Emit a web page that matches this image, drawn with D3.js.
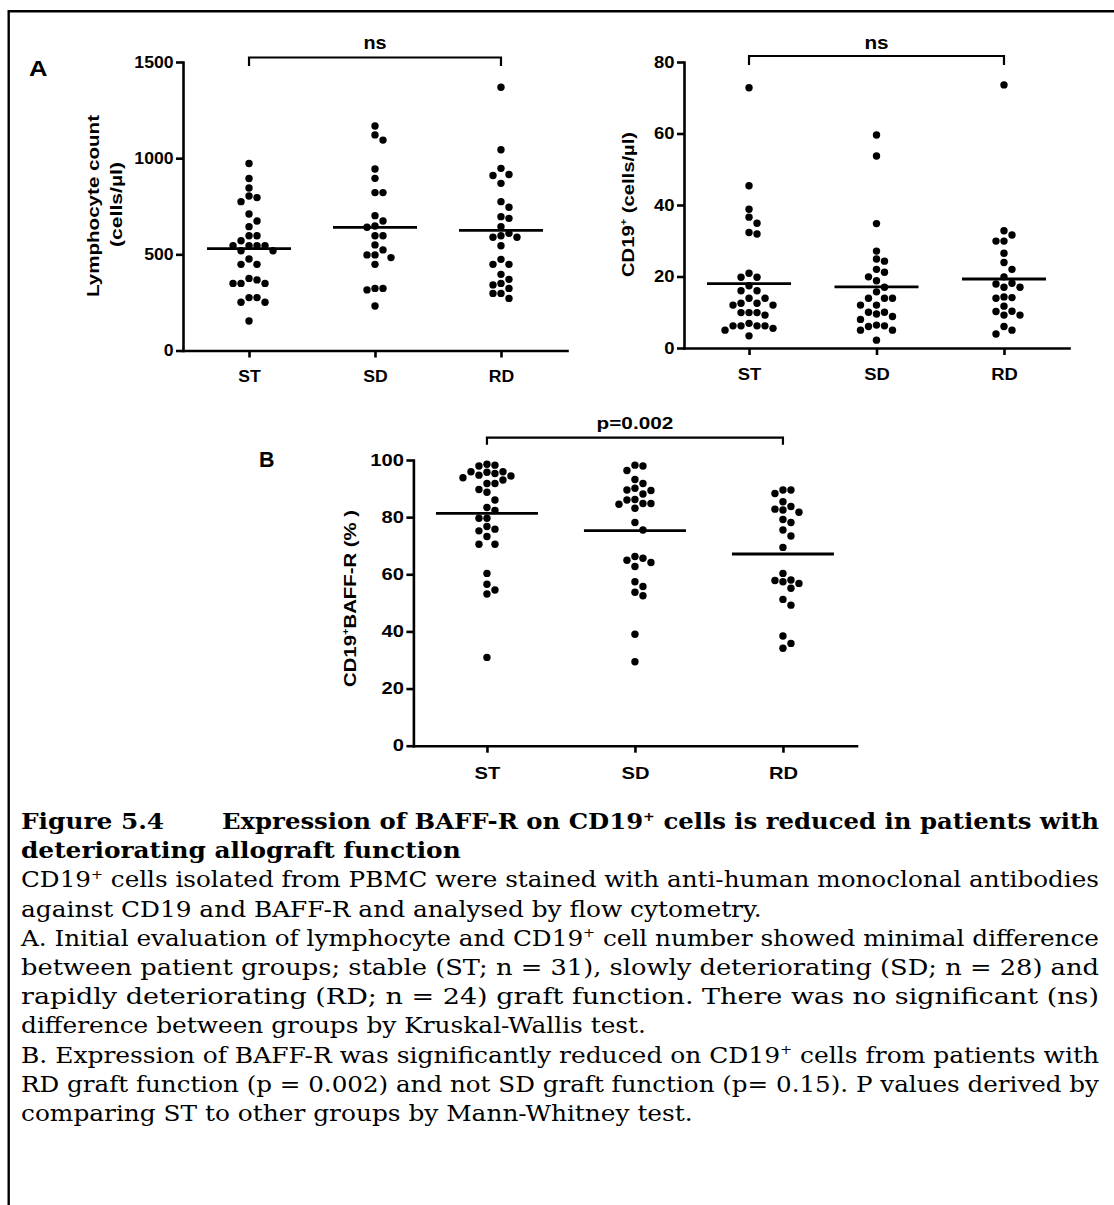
<!DOCTYPE html>
<html>
<head>
<meta charset="utf-8">
<script src="https://cdn.jsdelivr.net/npm/d3@7"></script>
<style>
  html, body { margin: 0; padding: 0; background: #fff; }
  svg { display: block; }
</style>
</head>
<body>
<svg id="fig" width="1114" height="1205"></svg>
<script>
// ---- data -------------------------------------------------------------
const groups = ["ST", "SD", "RD"];

// Lymphocyte count (cells/µl)
const lymphST = [972, 894, 845, 803, 795, 774, 710, 673, 644, 597, 597, 571, 545, 545, 545, 545, 519, 519, 476, 448, 448, 375, 367, 349, 349, 349, 275, 275, 251, 251, 153];
const lymphSD = [1167, 1121, 1094, 944, 895, 821, 821, 701, 673, 647, 641, 597, 597, 549, 523, 497, 497, 483, 448, 323, 323, 315, 231];
const lymphRD = [1369, 1044, 947, 915, 910, 869, 774, 745, 696, 687, 644, 609, 597, 589, 589, 545, 474, 448, 448, 396, 370, 349, 341, 323, 297, 297, 271];
const lymphMedian = [530, 640, 625];
const lymphTicks = [0, 500, 1000, 1500];

// CD19+ cells (cells/µl)
const cd19ST = [72.8, 45.4, 38.8, 36.6, 34.9, 32.3, 31.9, 20.9, 19.8, 19.8, 17.4, 16.0, 16.0, 13.9, 13.9, 12.5, 12.5, 12.0, 12.0, 9.9, 9.9, 9.9, 9.2, 6.9, 6.2, 6.2, 6.2, 6.2, 5.5, 5.0, 3.4];
const cd19SD = [59.6, 53.7, 34.8, 27.1, 24.9, 24.3, 22.0, 21.2, 19.9, 18.8, 17.0, 15.7, 13.9, 13.9, 13.9, 12.0, 12.0, 10.0, 10.0, 9.5, 8.8, 8.0, 6.4, 6.2, 6.0, 5.0, 5.0, 2.2];
const cd19RD = [73.6, 32.8, 31.6, 29.9, 29.9, 26.5, 23.9, 22.0, 19.9, 18.1, 17.9, 17.0, 17.0, 14.3, 14.1, 13.9, 11.7, 10.3, 10.2, 9.2, 9.2, 6.0, 5.0, 3.9];
const cd19Median = [18.0, 17.1, 19.3];
const cd19Ticks = [0, 20, 40, 60, 80];

// CD19+BAFF-R (%)
const baffST = [98.5, 98.2, 97.9, 95.9, 95.9, 95.7, 95.3, 94.7, 94.4, 93.8, 93.0, 91.8, 91.8, 89.7, 88.7, 86.0, 83.4, 82.3, 79.6, 79.6, 76.7, 75.8, 75.2, 73.2, 70.5, 70.5, 60.3, 56.5, 54.5, 53.1, 30.9];
const baffSD = [98.2, 97.9, 96.3, 93.2, 91.8, 90.1, 89.5, 89.3, 88.1, 86.2, 86.0, 84.8, 84.8, 84.5, 83.1, 78.1, 75.5, 66.2, 65.6, 64.9, 64.1, 62.7, 57.4, 55.7, 53.7, 52.5, 39.0, 29.4];
const baffRD = [89.5, 89.5, 88.3, 85.4, 83.7, 82.8, 82.5, 81.7, 79.2, 78.1, 75.5, 73.4, 69.4, 60.3, 58.0, 57.8, 57.4, 56.8, 55.1, 51.2, 49.2, 38.4, 35.8, 34.1];
const baffMedian = [81.3, 75.3, 67.1];
const baffTicks = [0, 20, 40, 60, 80, 100];

// ---- drawing ----------------------------------------------------------
const SANS = "'Liberation Sans', Arial, sans-serif";
const SERIF = "'DejaVu Serif', serif";
const svg = d3.select("#fig");

// frame around the figure
svg.append("path")
  .attr("d", "M8.7,1205 V11.2 H1114")
  .attr("fill", "none").attr("stroke", "#000").attr("stroke-width", 2.4);

// widen text horizontally by factor k (keeps its anchor)
function stretch(sel, k) {
  sel.each(function () {
    const w = this.getComputedTextLength();
    d3.select(this).attr("textLength", w * k).attr("lengthAdjust", "spacingAndGlyphs");
  });
}

// row-style beeswarm: dots closer than one diameter vertically are
// pushed sideways, alternating right/left from the group centre
function swarm(values, y, r, gap) {
  const d = 2 * r + gap;
  const pts = values.map(v => ({ v, y: y(v), dx: 0 })).sort((a, b) => a.y - b.y);
  const placed = [];
  pts.forEach(p => {
    for (let k = 0; k < 400; k++) {
      const off = k === 0 ? 0 : (k % 2 ? 1 : -1) * Math.ceil(k / 2) * 0.5;
      const hit = placed.some(q => Math.abs(off - q.dx) < d && Math.abs(p.y - q.y) < d);
      if (!hit) { p.dx = off; break; }
    }
    placed.push(p);
  });
  return pts;
}

function panel(cfg) {
  const g = svg.append("g");
  const x = d3.scalePoint().domain(groups).range([cfg.left, cfg.right]).padding(cfg.pad);
  const y = d3.scaleLinear().domain([0, cfg.max]).range([cfg.bottom, cfg.top]);

  const ya = g.append("g").attr("transform", `translate(${cfg.left},0)`)
    .call(d3.axisLeft(y).tickValues(cfg.ticks).tickSize(7).tickSizeOuter(0)
      .tickPadding(2.5).tickFormat(d3.format("d")));
  const xa = g.append("g").attr("transform", `translate(0,${cfg.bottom})`)
    .call(d3.axisBottom(x).tickSize(7).tickSizeOuter(0).tickPadding(cfg.catPad));

  [ya, xa].forEach(a => {
    a.select(".domain").attr("stroke", "#000").attr("stroke-width", 2.6).attr("stroke-linecap", "square");
    a.selectAll(".tick line").attr("stroke", "#000").attr("stroke-width", 2.6);
    a.selectAll("text").attr("fill", "#000")
      .style("font-family", SANS).style("font-weight", "bold").style("font-size", cfg.fs + "px");
    stretch(a.selectAll("text"), cfg.sx);
  });

  // dots
  cfg.series.forEach((vals, i) => {
    const cx = x(groups[i]);
    g.append("g").selectAll("circle")
      .data(swarm(vals, y, 3.7, 0.4))
      .join("circle")
      .attr("cx", d => cx + d.dx)
      .attr("cy", d => d.y)
      .attr("r", 3.7)
      .attr("fill", "#000");
  });

  // median lines
  g.append("g").selectAll("line")
    .data(cfg.medians)
    .join("line")
    .attr("x1", (d, i) => x(groups[i]) - cfg.half)
    .attr("x2", (d, i) => x(groups[i]) + cfg.half)
    .attr("y1", d => y(d)).attr("y2", d => y(d))
    .attr("stroke", "#000").attr("stroke-width", 2.8);

  // comparison bracket ST vs RD
  const bx1 = x("ST"), bx2 = x("RD");
  g.append("path")
    .attr("d", `M${bx1},${cfg.brY + cfg.brDrop} V${cfg.brY} H${bx2} V${cfg.brY + cfg.brDrop}`)
    .attr("fill", "none").attr("stroke", "#000").attr("stroke-width", 2.2);
  const lab = g.append("text")
    .attr("x", (bx1 + bx2) / 2).attr("y", cfg.brLabelY)
    .attr("text-anchor", "middle")
    .style("font-family", SANS).style("font-weight", "bold").style("font-size", cfg.brFs + "px")
    .text(cfg.brLabel);
  stretch(lab, cfg.sx);

  // y axis title lines (rotated)
  cfg.titles.forEach(t => {
    const tx = g.append("text")
      .attr("transform", `translate(${t.x},${t.y}) rotate(-90)`)
      .attr("text-anchor", "middle")
      .style("font-family", SANS).style("font-weight", "bold").style("font-size", t.fs + "px");
    t.parts.forEach(p => {
      if (p.sup) {
        tx.append("tspan").attr("dy", -t.fs * 0.42).style("font-size", (t.fs * 0.55) + "px").text(p.text);
      } else {
        tx.append("tspan").attr("dy", p.after ? t.fs * 0.42 : null).text(p.text);
      }
    });
    tx.attr("textLength", t.len).attr("lengthAdjust", "spacingAndGlyphs");
  });
  return { x, y };
}

// Panel A, left: lymphocyte count
panel({
  left: 183, right: 567, pad: 0.524, top: 62, bottom: 350.5, max: 1500,
  ticks: lymphTicks, series: [lymphST, lymphSD, lymphRD], medians: lymphMedian,
  half: 42, fs: 16, sx: 1.1, catPad: 13,
  brY: 57.5, brDrop: 8.5, brLabel: "ns", brLabelY: 49, brFs: 18,
  titles: [
    { x: 99, y: 206, fs: 16.5, len: 182, parts: [{ text: "Lymphocyte count" }] },
    { x: 122, y: 204.5, fs: 16.5, len: 85, parts: [{ text: "(cells/µl)" }] }
  ]
});

// Panel A, right: CD19+ count
panel({
  left: 684, right: 1069, pad: 0.51, top: 62, bottom: 348, max: 80,
  ticks: cd19Ticks, series: [cd19ST, cd19SD, cd19RD], medians: cd19Median,
  half: 42, fs: 16, sx: 1.15, catPad: 14,
  brY: 56, brDrop: 9, brLabel: "ns", brLabelY: 49, brFs: 18,
  titles: [
    { x: 633.5, y: 204.5, fs: 16, len: 145,
      parts: [{ text: "CD19" }, { text: "+", sup: true }, { text: " (cells/µl)", after: true }] }
  ]
});

// Panel B: BAFF-R expression on CD19+ cells
panel({
  left: 413.4, right: 856.5, pad: 0.497, top: 460, bottom: 745.7, max: 100,
  ticks: baffTicks, series: [baffST, baffSD, baffRD], medians: baffMedian,
  half: 51, fs: 16.5, sx: 1.22, catPad: 15,
  brY: 437.7, brDrop: 7, brLabel: "p=0.002", brLabelY: 429, brFs: 17,
  titles: [
    { x: 355.7, y: 598.5, fs: 17, len: 177,
      parts: [{ text: "CD19" }, { text: "+", sup: true }, { text: "BAFF-R (% )", after: true }] }
  ]
});

// panel letters
[["A", 29, 75.5, 18.5], ["B", 259, 466.5, 15.5]].forEach(([t, x, y, w]) => {
  svg.append("text").attr("x", x).attr("y", y)
    .style("font-family", SANS).style("font-weight", "bold").style("font-size", "22px")
    .attr("textLength", w).attr("lengthAdjust", "spacingAndGlyphs")
    .text(t);
});

// ---- caption ----------------------------------------------------------
const CAP_LEFT = 21, CAP_RIGHT = 1099;
const capFs = 22;

function captionText(str, x, y, bold) {
  const t = svg.append("text").attr("x", x).attr("y", y)
    .style("font-family", SERIF).style("font-size", capFs + "px")
    .style("font-weight", bold ? "bold" : "normal").attr("fill", "#000");
  str.split("^+").forEach((p, i) => {
    if (i > 0) {
      t.append("tspan").attr("dy", -capFs * 0.38).style("font-size", (capFs * 0.58) + "px").text("+");
      t.append("tspan").attr("dy", capFs * 0.38).text(p);
    } else {
      t.append("tspan").text(p);
    }
  });
  return t;
}

const base = d3.range(11).map(i => 829 + 29.2 * i);

const capLines = [
  { s: "Expression of BAFF-R on CD19^+ cells is reduced in patients with", x: 222, bold: true, just: true, line: 0 },
  { s: "deteriorating allograft function", bold: true, just: false, line: 1 },
  { s: "CD19^+ cells isolated from PBMC were stained with anti-human monoclonal antibodies", just: true, line: 2 },
  { s: "against CD19 and BAFF-R and analysed by flow cytometry.", just: false, line: 3 },
  { s: "A. Initial evaluation of lymphocyte and CD19^+ cell number showed minimal difference", just: true, line: 4 },
  { s: "between patient groups; stable (ST; n = 31), slowly deteriorating (SD; n = 28) and", just: true, line: 5 },
  { s: "rapidly deteriorating (RD; n = 24) graft function. There was no significant (ns)", just: true, line: 6 },
  { s: "difference between groups by Kruskal-Wallis test.", just: false, line: 7 },
  { s: "B. Expression of BAFF-R was significantly reduced on CD19^+ cells from patients with", just: true, line: 8 },
  { s: "RD graft function (p = 0.002) and not SD graft function (p= 0.15). P values derived by", just: true, line: 9 },
  { s: "comparing ST to other groups by Mann-Whitney test.", just: false, line: 10 }
];

// justified lines are stretched to the full column; the remaining lines
// get the typical stretch of the body text
const made = capLines.map(c => {
  const x0 = c.x || CAP_LEFT;
  const t = captionText(c.s, x0, base[c.line], c.bold);
  const w = t.node().getComputedTextLength();
  return { c, t, w, target: CAP_RIGHT - x0 };
});
const factors = made.filter(m => m.c.just && !m.c.bold).map(m => m.target / m.w);
const k = d3.median(factors);
made.forEach(m => {
  const len = m.c.just ? m.target : m.w * k;
  m.t.attr("textLength", len).attr("lengthAdjust", "spacingAndGlyphs");
});
const fig = captionText("Figure 5.4", CAP_LEFT, base[0], true);
stretch(fig, k);
</script>
</body>
</html>
